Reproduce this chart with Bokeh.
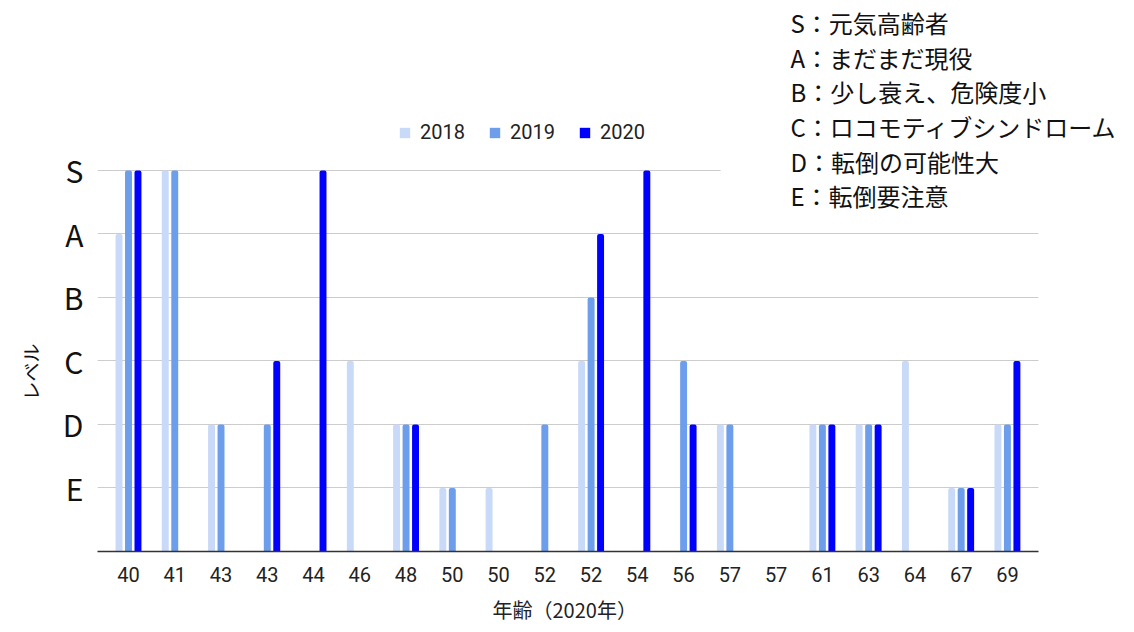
import numpy as np
from bokeh.plotting import figure
from bokeh.models import (Range1d, FixedTicker, Legend, LegendItem, BoxAnnotation,
                          ColumnDataSource, Label, Title)
from bokeh.embed import file_html
from bokeh.resources import INLINE

# ---- data ----
ages = ["40", "41", "43", "43", "44", "46", "48", "50", "50", "52",
        "52", "54", "56", "57", "57", "61", "63", "64", "67", "69"]
level_labels = ["E", "D", "C", "B", "A", "S"]
level_values = [1, 2, 3, 4, 5, 6]
years = ["2018", "2019", "2020"]
# S=6, A=5, B=4, C=3, D=2, E=1, None = no record
lv2018 = [5, 6, 2, None, None, 3, 2, 1, 1, None, 3, None, None, 2, None, 2, 2, 3, 1, 2]
lv2019 = [6, 6, 2, 2, None, None, 2, 1, None, 2, 4, None, 3, 2, None, 2, 2, None, 1, 2]
lv2020 = [6, None, None, 3, 6, None, 2, None, None, None, 5, 6, 2, None, None, 2, 2, None, 1, 3]
colors = ["#c9daf8", "#6d9eeb", "#0000ff"]
note_lines = ["S：元気高齢者", "A：まだまだ現役", "B：少し衰え、危険度小",
              "C：ロコモティブシンドローム", "D：転倒の可能性大", "E：転倒要注意"]
x_title = "年齢（2020年）"
y_title = "レベル"

series = [lv2018, lv2019, lv2020]
idx = np.arange(len(ages))
x_lo, x_hi = -0.67, 19.67

p = figure(width=1134, height=632, output_backend="svg", toolbar_location=None,
           x_range=Range1d(x_lo, 21.747), y_range=Range1d(0, 8.677),
           min_border_left=97, min_border_right=0, min_border_top=0, min_border_bottom=81)
p.outline_line_color = None
p.background_fill_color = "white"

offsets = [-0.205, 0.0, 0.205]
renderers = []
for vals, col, off in zip(series, colors, offsets):
    top = np.array([np.nan if v is None else v for v in vals], dtype=float)
    src = ColumnDataSource(dict(x=idx + off, top=top))
    r = p.vbar(x="x", top="top", bottom=0, width=0.15, source=src,
               fill_color=col, line_color=None, border_radius=(2, 2, 0, 0))
    renderers.append(r)

# white boxes: behind note text, and right of the plot area (gridlines stop there)
p.add_layout(BoxAnnotation(left=12.8, bottom=5.4, fill_color="white", fill_alpha=1.0,
                           line_alpha=0, level="underlay"))
p.add_layout(BoxAnnotation(left=x_hi, fill_color="white", fill_alpha=1.0,
                           line_alpha=0, level="underlay"))

# note text
for i, t in enumerate(note_lines):
    p.add_layout(Label(x=14.31, y=8.33 - i * 0.546, text=t, text_font="Noto Sans CJK JP",
                       text_font_size="24px", text_color="#111111", text_align="left",
                       text_baseline="middle"))

# axis titles
p.add_layout(Title(text=x_title, align="left", offset=395, text_font="Noto Sans CJK JP",
                   text_font_size="20px", text_font_style="normal", text_color="#222222",
                   standoff=16), "below")
p.add_layout(Title(text=y_title, align="left", offset=151, text_font="Noto Sans CJK JP",
                   text_font_size="19px", text_font_style="normal", text_color="#111111",
                   standoff=28, vertical_align="top"), "left")

legend = Legend(items=[LegendItem(label=y, renderers=[r]) for y, r in zip(years, renderers)],
                orientation="horizontal", location=(301, 407))
legend.border_line_alpha = 0
legend.background_fill_alpha = 0
legend.label_text_font = "Roboto"
legend.label_text_font_size = "20px"
legend.label_text_color = "#222222"
legend.glyph_width = 13
legend.glyph_height = 13
legend.label_height = 24
legend.spacing = 23
legend.label_standoff = 9
legend.padding = 0
legend.margin = 0
p.add_layout(legend)

# axes
p.xgrid.grid_line_color = None
p.ygrid.ticker = FixedTicker(ticks=level_values)
p.ygrid.grid_line_color = "#cccccc"

p.xaxis.ticker = FixedTicker(ticks=list(range(len(ages))))
p.xaxis.major_label_overrides = {i: a for i, a in enumerate(ages)}
p.xaxis.bounds = (x_lo, x_hi)
p.xaxis.axis_line_color = "#333333"
p.xaxis.axis_line_width = 1.5
p.xaxis.major_tick_line_color = None
p.xaxis.minor_tick_line_color = None
p.xaxis.major_label_text_font = "Roboto"
p.xaxis.major_label_text_font_size = "20px"
p.xaxis.major_label_text_color = "#222222"
p.xaxis.major_label_standoff = 9

p.yaxis.ticker = FixedTicker(ticks=level_values)
p.yaxis.major_label_overrides = dict(zip(level_values, level_labels))
p.yaxis.axis_line_color = None
p.yaxis.major_tick_line_color = None
p.yaxis.minor_tick_line_color = None
p.yaxis.major_label_text_font = "Noto Sans CJK JP"
p.yaxis.major_label_text_font_size = "30px"
p.yaxis.major_label_text_font_style = "normal"
p.yaxis.major_label_text_color = "#111111"
p.yaxis.major_label_standoff = 8

open("out.html", "w").write(file_html(p, INLINE))
